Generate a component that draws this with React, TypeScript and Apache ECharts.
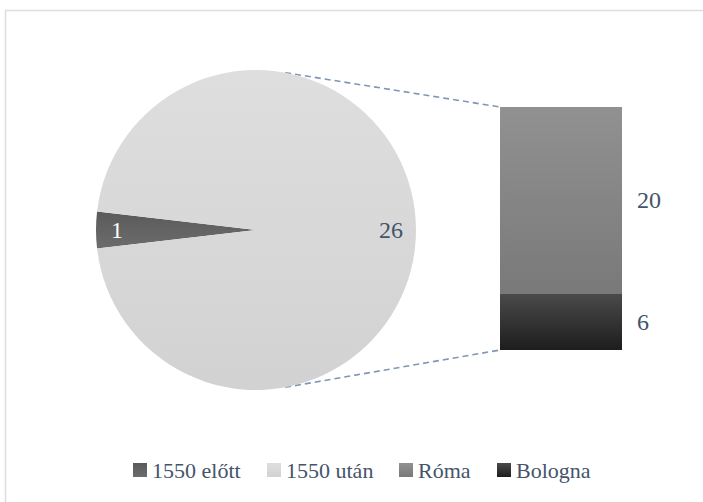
import React, { useEffect, useRef } from "react";
import * as echarts from "echarts";

const pieNames = ["1550 előtt", "1550 után"];
const pieValues = [1, 26];
const barNames = ["Bologna", "Róma"];
const barValues = [6, 20];
const legendNames = ["1550 előtt", "1550 után", "Róma", "Bologna"];

const W = 703;
const H = 502;
const CX = 256;
const CY = 230;
const R = 160;
const GRID = { left: 500, top: 107, width: 122, height: 243 };
const LEGEND_LEFTS = [133, 267, 399, 497];
const TEXT = "#44546a";
const FONT = "'Liberation Serif', 'DejaVu Serif', serif";

const grad = (a: string, b: string) => ({
  type: "linear",
  x: 0,
  y: 0,
  x2: 0,
  y2: 1,
  colorStops: [
    { offset: 0, color: a },
    { offset: 1, color: b },
  ],
});

const pieColors = [grad("#5a5a5a", "#6c6c6c"), grad("#dedede", "#d2d2d2")];
const barColors = [grad("#4a4a4a", "#1d1d1d"), grad("#919191", "#797979")];
const labelOffsets = [[3, 0], [-7, 0]];

export default function App() {
  const ref = useRef<HTMLDivElement>(null);
  useEffect(() => {
    if (!ref.current) return;
    const chart = echarts.init(ref.current, undefined, { renderer: "svg" });
    const startAngle = 180 + (360 * pieValues[0]) / (pieValues[0] + pieValues[1]) / 2;
    const th = (10.5 * Math.PI) / 180;
    const topPt = [CX + R * Math.sin(th), CY - R * Math.cos(th)];
    const botPt = [CX + R * Math.sin(th), CY + R * Math.cos(th)];
    const dash = { stroke: "#7f96b8", lineWidth: 1.6, lineDash: [6, 4] };
    chart.setOption({
      animation: false,
      textStyle: { fontFamily: FONT },
      legend: legendNames.map((n, i) => ({
        data: [n],
        left: LEGEND_LEFTS[i],
        top: 459,
        padding: 0,
        itemWidth: 14,
        itemHeight: 14,
        icon: "rect",
        selectedMode: false,
        textStyle: { color: TEXT, fontSize: 22, fontFamily: FONT, padding: [0, 0, 0, 0] },
      })),
      grid: { ...GRID, containLabel: false },
      xAxis: { type: "category", data: ["x"], show: false },
      yAxis: { type: "value", min: 0, max: barValues[0] + barValues[1], show: false },
      series: [
        {
          type: "pie",
          center: [CX, CY],
          radius: [0, R],
          startAngle,
          clockwise: true,
          silent: true,
          label: { show: false },
          labelLine: { show: false },
          data: pieNames.map((n, i) => ({ name: n, value: pieValues[i], itemStyle: { color: pieColors[i] } })),
        },
        {
          type: "pie",
          center: [CX, CY],
          radius: [118, R],
          startAngle,
          clockwise: true,
          silent: true,
          itemStyle: { color: "rgba(0,0,0,0)" },
          label: {
            show: true,
            position: "inside",
            formatter: "{c}",
            fontSize: 24,
            fontFamily: FONT,
          },
          labelLine: { show: false },
          data: pieValues.map((v, i) => ({
            name: "lbl" + i,
            value: v,
            label: { color: i === 0 ? "#ffffff" : TEXT, offset: labelOffsets[i] },
          })),
        },
        ...barNames.map((n, i) => ({
          type: "bar",
          name: n,
          stack: "s",
          barWidth: "100%",
          silent: true,
          data: [barValues[i]],
          itemStyle: { color: barColors[i] },
          label: {
            show: true,
            position: "right",
            distance: 15,
            color: TEXT,
            fontSize: 24,
            fontFamily: FONT,
          },
        })),
      ],
      graphic: [
        {
          type: "rect",
          silent: true,
          shape: { x: 5.5, y: 10.5, width: W + 10, height: H + 10 },
          style: { fill: "none", stroke: "#d9dde4", lineWidth: 1.5 },
        },
        {
          type: "line",
          silent: true,
          shape: { x1: topPt[0], y1: topPt[1], x2: GRID.left, y2: GRID.top },
          style: dash,
        },
        {
          type: "line",
          silent: true,
          shape: { x1: botPt[0], y1: botPt[1], x2: GRID.left, y2: GRID.top + GRID.height },
          style: dash,
        },
      ],
    });
    return () => chart.dispose();
  }, []);
  return (
    <div
      ref={ref}
      style={{ position: "absolute", left: 0, top: 0, width: W, height: H, background: "#ffffff" }}
    />
  );
}
